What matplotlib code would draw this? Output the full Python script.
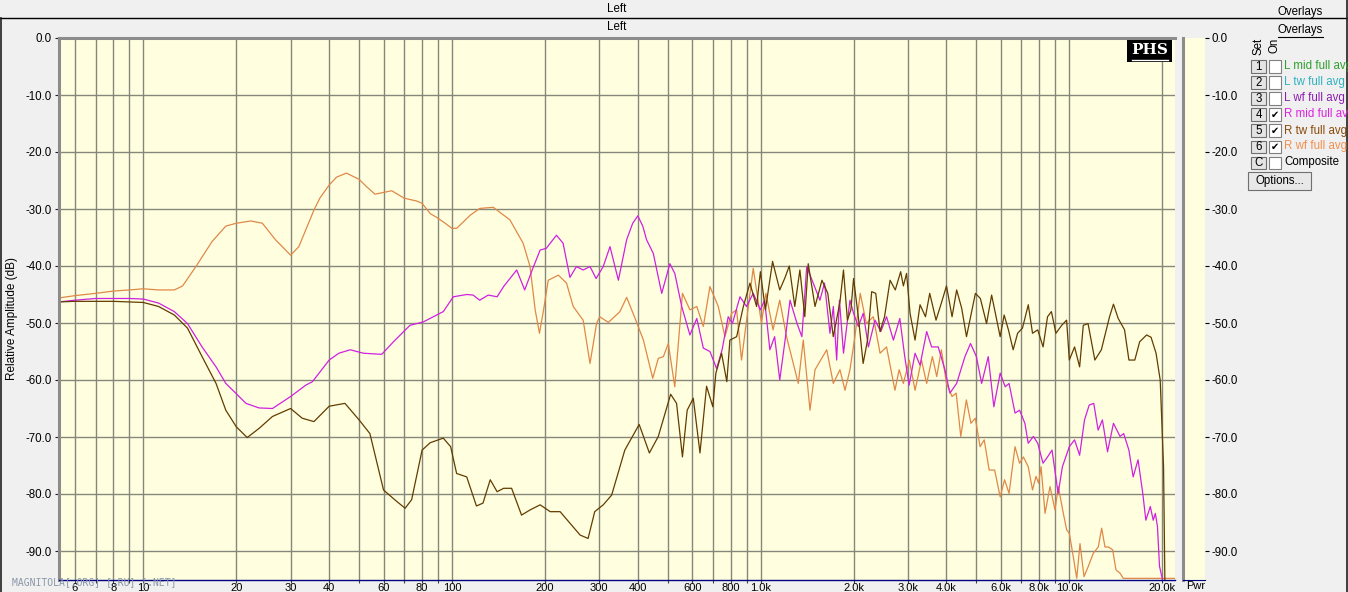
import matplotlib
matplotlib.use('Agg')
import matplotlib.pyplot as plt
from matplotlib.patches import Rectangle
from matplotlib.lines import Line2D
from matplotlib.ticker import FixedLocator, FixedFormatter, NullLocator

W, H = 1348, 592

# R mid full avg (magenta)
mid_f = [5.33, 6, 7, 8, 9, 10, 11.2, 12.6, 13.9, 15.5,
         17.2, 18.5, 20, 21.5, 23.7, 26.2, 30, 33.6, 35.3, 40,
         43, 46.8, 51.6, 59.2, 64.6, 73.1, 80.8, 93.7, 101, 111.6,
         117, 123, 131, 140, 147, 162, 172, 181, 193, 202,
         218, 229, 241, 253, 266, 280, 293, 309, 325, 346,
         368, 385, 400, 415, 427, 449, 478, 508, 527, 555,
         590, 621, 652, 685, 720, 750, 785, 810, 857, 900,
         946, 998, 1030, 1071, 1110, 1153, 1200, 1245, 1312, 1360,
         1410, 1480, 1556, 1610, 1677, 1720, 1763, 1800, 1855, 1947,
         2000, 2072, 2150, 2234, 2347, 2450, 2558, 2692, 2824, 2930,
         3027, 3164, 3284, 3451, 3580, 3760, 3954, 4103, 4315, 4590,
         4786, 5000, 5200, 5462, 5695, 5970, 6200, 6380, 6670, 6900,
         7180, 7360, 7650, 7900, 8220, 8500, 8790, 9200, 9500, 10000,
         10400, 10800, 11200, 11600, 12000, 12400, 12800, 13300, 13900, 14600,
         15000, 15600, 16100, 16700, 17300, 17700, 18300, 18700, 19000, 19300,
         19600, 20000, 20100]
mid_db = [-46.3, -46.0, -45.7, -45.7, -45.7, -45.8, -46.5, -48.0, -50.1, -54.2,
          -57.7, -60.6, -62.4, -64.1, -64.9, -65.0, -62.9, -60.9, -60.3, -56.5,
          -55.3, -54.7, -55.3, -55.5, -53.3, -50.4, -49.8, -48.0, -45.4, -45.0,
          -45.1, -46.0, -45.1, -45.4, -43.6, -40.7, -44.2, -41.0, -37.2, -36.9,
          -34.6, -36.0, -42.0, -40.1, -40.7, -40.1, -42.2, -40.1, -36.6, -42.5,
          -35.4, -32.5, -31.2, -33.0, -35.4, -37.8, -44.8, -39.6, -41.3, -47.1,
          -52.1, -49.2, -54.4, -55.0, -58.0, -54.7, -48.9, -50.1, -45.4, -47.1,
          -44.8, -47.7, -46.0, -54.7, -52.4, -60.0, -53.0, -46.0, -50.1, -52.4,
          -40.1, -43.0, -46.0, -43.0, -51.8, -47.1, -56.5, -46.0, -55.3, -46.0,
          -48.3, -50.6, -48.3, -54.2, -49.5, -51.5, -48.9, -53.0, -49.2, -55.9,
          -60.9, -55.3, -57.4, -51.5, -54.2, -54.2, -58.2, -62.3, -60.6, -55.9,
          -53.6, -55.9, -60.6, -55.9, -64.7, -58.8, -61.2, -60.6, -65.8, -65.3,
          -67.6, -71.1, -69.9, -71.1, -74.6, -73.5, -72.3, -79.9, -75.2, -71.7,
          -70.5, -73.2, -67.0, -64.4, -64.1, -68.8, -67.0, -72.6, -67.6, -69.9,
          -69.4, -72.3, -77.0, -74.0, -79.9, -84.6, -82.2, -84.6, -83.4, -85.7,
          -92.7, -94.8, -95.5]

# R tw full avg (dark brown)
tw_f = [5.33, 6, 7, 8, 9, 10, 11.2, 12.6, 13.9, 15.5,
        17.2, 18.5, 20, 21.7, 23.7, 26.2, 30, 32.7, 35.7, 40,
        45, 50, 54.2, 60, 66.2, 70.5, 74, 80, 85, 93.7,
        99, 103.5, 111.6, 120, 126, 133, 140, 147, 156, 168,
        179, 193, 208, 224, 241, 260, 276, 290, 309, 329,
        363, 404, 436, 466, 511, 534, 558, 578, 605, 636,
        668, 700, 716, 747, 777, 795, 836, 879, 923, 970,
        998, 1036, 1093, 1153, 1200, 1238, 1290, 1340, 1390, 1426,
        1500, 1580, 1650, 1719, 1807, 1855, 1910, 1960, 2000, 2072,
        2148, 2220, 2289, 2360, 2437, 2520, 2626, 2730, 2842, 2900,
        2970, 3048, 3164, 3284, 3420, 3530, 3700, 3850, 4000, 4170,
        4315, 4480, 4644, 4963, 5150, 5394, 5602, 5970, 6150, 6350,
        6577, 6800, 7050, 7363, 7600, 7900, 8224, 8500, 8750, 9050,
        9450, 9800, 10000, 10400, 10800, 11100, 11500, 12100, 12700, 13500,
        13900, 14400, 15100, 15600, 16300, 16900, 17800, 18400, 19100, 19700,
        20200, 20400]
tw_db = [-46.3, -46.2, -46.2, -46.2, -46.3, -46.4, -47.1, -48.6, -50.9, -55.9,
         -60.6, -65.3, -68.2, -70.1, -68.5, -66.4, -65.0, -66.7, -67.3, -64.6,
         -64.1, -67.0, -69.4, -79.3, -81.3, -82.5, -81.0, -72.3, -71.0, -70.2,
         -71.7, -76.4, -77.0, -82.1, -81.6, -77.5, -79.6, -79.0, -79.0, -83.7,
         -82.8, -81.9, -83.1, -83.1, -85.1, -87.2, -87.8, -83.1, -81.9, -80.2,
         -72.3, -67.8, -72.8, -69.9, -62.5, -64.1, -73.5, -65.3, -63.2, -72.8,
         -61.1, -64.7, -58.8, -55.3, -60.3, -53.0, -52.4, -47.1, -43.0, -47.1,
         -41.0, -47.7, -39.2, -44.2, -42.0, -40.0, -47.1, -40.7, -48.9, -39.6,
         -47.1, -42.5, -44.8, -52.4, -46.3, -40.7, -49.5, -47.7, -42.2, -48.9,
         -57.1, -53.0, -44.5, -44.8, -51.5, -48.9, -42.5, -44.2, -41.0, -43.5,
         -41.3, -48.3, -53.0, -46.8, -48.9, -44.8, -49.5, -46.5, -43.5, -48.9,
         -44.2, -47.4, -52.4, -44.8, -45.7, -50.1, -45.1, -52.4, -48.6, -51.2,
         -54.7, -51.8, -50.9, -46.8, -51.8, -51.2, -54.2, -48.9, -48.0, -51.8,
         -50.4, -49.5, -56.5, -54.2, -57.7, -50.4, -50.1, -56.5, -54.7, -48.9,
         -46.7, -49.2, -51.2, -56.5, -56.5, -53.3, -52.1, -52.5, -55.3, -60.0,
         -75.2, -95.5]

# R wf full avg (orange)
wf_f = [5.33, 6, 7, 8, 9, 10, 11.2, 12.6, 13.4, 14.8,
        16.7, 18.5, 20, 22.3, 24.3, 26.8, 30, 31.9, 35.7, 37.3,
        40, 42.3, 45.5, 50, 52.9, 56.3, 60, 63.8, 70, 76.8,
        80, 85, 90, 95, 100, 103.5, 114.5, 123, 136, 154,
        170, 179, 186, 192, 198, 205, 221, 235, 247, 266,
        280, 294, 301, 321, 350, 368, 392, 417, 447, 466,
        484, 502, 527, 558, 590, 621, 652, 685, 729, 766,
        805, 836, 867, 946, 1006, 1040, 1097, 1153, 1213, 1324,
        1374, 1445, 1500, 1637, 1719, 1807, 1876, 1947, 2020, 2102,
        2200, 2318, 2437, 2558, 2723, 2810, 2900, 3030, 3164, 3320,
        3450, 3600, 3720, 3850, 4000, 4170, 4300, 4450, 4640, 4800,
        4960, 5140, 5300, 5500, 5730, 5970, 6170, 6380, 6670, 6900,
        7100, 7360, 7600, 7800, 7950, 8100, 8343, 8660, 8988, 9213,
        9563, 9808, 10000, 10300, 10570, 10830, 11160, 11520, 11960, 12410,
        12730, 13050, 13400, 13820, 14160, 14600, 14960, 15300, 18000, 22000]
wf_db = [-45.6, -45.2, -44.8, -44.4, -44.2, -44.0, -44.2, -44.2, -43.5, -40.1,
         -35.7, -33.0, -32.5, -32.1, -32.5, -35.4, -38.1, -36.6, -30.2, -28.1,
         -25.8, -24.4, -23.7, -24.8, -26.1, -27.4, -27.1, -26.8, -28.1, -28.6,
         -29.0, -30.8, -31.6, -32.5, -33.4, -33.4, -31.1, -29.9, -29.7, -31.9,
         -36.0, -40.1, -47.7, -51.8, -47.7, -42.5, -41.6, -43.0, -47.1, -49.5,
         -57.1, -50.1, -48.9, -49.9, -48.0, -45.5, -49.2, -53.0, -59.7, -56.2,
         -55.9, -53.6, -61.2, -44.8, -47.7, -47.1, -50.6, -43.6, -47.1, -52.4,
         -48.3, -47.7, -56.5, -40.4, -50.0, -44.8, -51.2, -46.0, -52.4, -60.6,
         -53.0, -65.3, -58.2, -54.7, -60.6, -58.2, -61.8, -58.2, -52.4, -44.8,
         -50.1, -48.9, -55.3, -54.2, -61.8, -58.2, -60.6, -56.5, -61.8, -56.5,
         -60.6, -55.9, -59.4, -54.7, -60.6, -62.9, -62.3, -69.9, -63.5, -67.6,
         -66.7, -71.7, -70.5, -75.8, -75.8, -80.5, -77.5, -79.9, -71.7, -74.6,
         -73.5, -75.2, -79.3, -76.9, -78.1, -75.2, -83.4, -78.7, -82.8, -78.7,
         -83.4, -86.3, -86.9, -91.0, -94.8, -88.7, -94.5, -92.7, -90.4, -89.3,
         -86.0, -89.3, -89.3, -89.8, -93.3, -93.9, -94.8, -94.8, -94.8, -94.8]

x_ticks = [6, 7, 8, 9, 10, 20, 30, 40, 50, 60, 70, 80, 90, 100,
           200, 300, 400, 500, 600, 700, 800, 900, 1000,
           2000, 3000, 4000, 5000, 6000, 7000, 8000, 9000, 10000, 20000]
x_tick_labels = ["6", "", "8", "", "10", "20", "30", "40", "", "60", "", "80", "", "100",
                 "200", "300", "400", "", "600", "", "800", "", "1.0k",
                 "2.0k", "3.0k", "4.0k", "", "6.0k", "", "8.0k", "", "10.0k", "20.0k"]
y_ticks = [0, -10, -20, -30, -40, -50, -60, -70, -80, -90]
y_tick_labels = ["0.0", "-10.0", "-20.0", "-30.0", "-40.0", "-50.0",
                 "-60.0", "-70.0", "-80.0", "-90.0"]

legend_keys = ["1", "2", "3", "4", "5", "6", "C"]
legend_labels = ["L mid full avg", "L tw full avg", "L wf full avg", "R mid full avg",
                 "R tw full avg", "R wf full avg", "Composite"]
legend_on = [False, False, False, True, True, True, False]
legend_colors = ["#2ea02e", "#2fb2c0", "#8a1eb0", "#e020e0", "#8a4a08", "#f09050", "black"]

BG = "#f0f0f0"
PLOT_BG = "#ffffe0"
GRID = "#86867a"
UI_FONT = "Liberation Sans"


def fx(x):
    return x / W


def fy(y):
    return 1 - y / H


fig = plt.figure(figsize=(W / 100, H / 100), dpi=100, facecolor=BG)

# main plot area
ax = fig.add_axes([fx(59), fy(579.5), (1175 - 59) / W, (579.5 - 38) / H])
ax.set_facecolor(PLOT_BG)
ax.plot(wf_f, wf_db, color="#e08848", lw=0.9)
ax.plot(mid_f, mid_db, color="#d020e0", lw=0.9)
ax.plot(tw_f, tw_db, color="#623c00", lw=0.9)
ax.set_xscale('log')
ax.set_xlim(5.33, 22000)
ax.set_ylim(-95, 0)
ax.xaxis.set_major_locator(FixedLocator(x_ticks))
ax.xaxis.set_major_formatter(FixedFormatter(x_tick_labels))
ax.xaxis.set_minor_locator(NullLocator())
ax.set_yticks(y_ticks)
ax.set_yticklabels(y_tick_labels)
ax.grid(True, which='major', color=GRID, lw=1.0)
ax.set_axisbelow(True)
ax.tick_params(axis='x', direction='out', length=2.5, width=0.8, color='#404040',
               pad=0.3, labelsize=8)
ax.tick_params(axis='y', direction='out', length=3, width=0.8, color='#202020',
               pad=2, labelsize=8.3)
for lab in ax.get_xticklabels() + ax.get_yticklabels():
    lab.set_fontfamily(UI_FONT)
ax.spines['right'].set_visible(False)
ax.spines['left'].set_color('#8c8c8c')
ax.spines['left'].set_linewidth(2.2)
ax.spines['top'].set_color('#8c8c8c')
ax.spines['top'].set_linewidth(2.2)
ax.spines['bottom'].set_color('#000080')
ax.spines['bottom'].set_linewidth(1.0)
fig.text(fx(12), fy(318), "Relative Amplitude (dB)", fontsize=8.5, fontfamily=UI_FONT,
         rotation=90, ha='center', va='center')

# small power panel at the right with the second dB scale
pax = fig.add_axes([fx(1183), fy(579.5), 22 / W, (579.5 - 38) / H])
pax.set_facecolor(PLOT_BG)
pax.set_ylim(-95, 0)
pax.set_xticks([])
pax.yaxis.tick_right()
pax.set_yticks(y_ticks)
pax.set_yticklabels(y_tick_labels)
pax.tick_params(axis='y', direction='out', length=3, width=0.8, pad=2, labelsize=8.3)
for lab in pax.get_yticklabels():
    lab.set_fontfamily(UI_FONT)
pax.spines['right'].set_visible(False)
pax.spines['top'].set_visible(False)
pax.spines['left'].set_color('#8c8c8c')
pax.spines['left'].set_linewidth(2.2)
pax.spines['bottom'].set_color('#000080')
fig.text(fx(1186), fy(586), "Pwr", fontsize=8, fontfamily=UI_FONT, va='center')

# window titles and borders
fig.text(fx(617), fy(9), "Left", fontsize=8.3, fontfamily=UI_FONT, ha='center', va='center')
fig.text(fx(617), fy(27), "Left", fontsize=8.3, fontfamily=UI_FONT, ha='center', va='center')
fig.add_artist(Line2D([0, 1], [fy(18), fy(18)], transform=fig.transFigure, color='black', lw=1.0))
fig.add_artist(Line2D([fx(1), fx(1)], [0, fy(18)], transform=fig.transFigure, color='#202020', lw=1.2))
fig.add_artist(Line2D([fx(1346.5), fx(1346.5)], [0, 1], transform=fig.transFigure, color='#202020', lw=1.2))

# PHS badge
fig.add_artist(Rectangle((fx(1127), fy(62)), 45 / W, 22 / H, transform=fig.transFigure,
                         facecolor='black', edgecolor='none'))
fig.text(fx(1149.5), fy(50), "PHS", color='white', fontsize=11, fontweight='bold',
         fontfamily='DejaVu Serif', ha='center', va='center')
fig.add_artist(Line2D([fx(1132), fx(1168)], [fy(59.5), fy(59.5)], transform=fig.transFigure,
                      color='white', lw=1.0))

# watermark
fig.text(fx(12), fy(582), "MAGNITOLA[.ORG] [.RU] [.NET]", fontsize=7, color='#8a98aa',
         fontfamily='DejaVu Sans Mono', va='center')

# overlays panel
fig.text(fx(1300), fy(12), "Overlays", fontsize=8.3, fontfamily=UI_FONT, ha='center', va='center')
fig.text(fx(1300), fy(30), "Overlays", fontsize=8.3, fontfamily=UI_FONT, ha='center', va='center')
fig.add_artist(Line2D([fx(1278), fx(1323)], [fy(37), fy(37)], transform=fig.transFigure,
                      color='black', lw=0.8))
fig.text(fx(1259), fy(46), "Set", fontsize=8.3, fontfamily=UI_FONT, rotation=90,
         ha='center', va='center')
fig.text(fx(1274), fy(45), "On", fontsize=8.3, fontfamily=UI_FONT, rotation=90,
         ha='center', va='center')

for i, (key, label, on, col) in enumerate(zip(legend_keys, legend_labels, legend_on, legend_colors)):
    yc = 66.5 + 16 * i
    # numbered button
    fig.add_artist(Rectangle((fx(1251), fy(yc + 6)), 15 / W, 12 / H, transform=fig.transFigure,
                             facecolor='#e4e4e4', edgecolor='#707070', lw=0.8))
    fig.text(fx(1258.5), fy(yc), key, fontsize=8.3, fontfamily=UI_FONT, ha='center', va='center')
    # check box
    fig.add_artist(Rectangle((fx(1269), fy(yc + 6)), 12 / W, 12 / H, transform=fig.transFigure,
                             facecolor='white', edgecolor='#808080', lw=0.8))
    if on:
        fig.text(fx(1275), fy(yc), "\u2714", fontsize=7, ha='center', va='center')
    fig.text(fx(1284), fy(yc), label, fontsize=8.3, fontfamily=UI_FONT, color=col, va='center')

fig.add_artist(Rectangle((fx(1248), fy(190)), 63 / W, 18 / H, transform=fig.transFigure,
                         facecolor='#e8e8e8', edgecolor='#707070', lw=0.8))
fig.text(fx(1279.5), fy(181), "Options...", fontsize=8.3, fontfamily=UI_FONT,
         ha='center', va='center')

fig.savefig("out.png", dpi=100, facecolor=BG)
